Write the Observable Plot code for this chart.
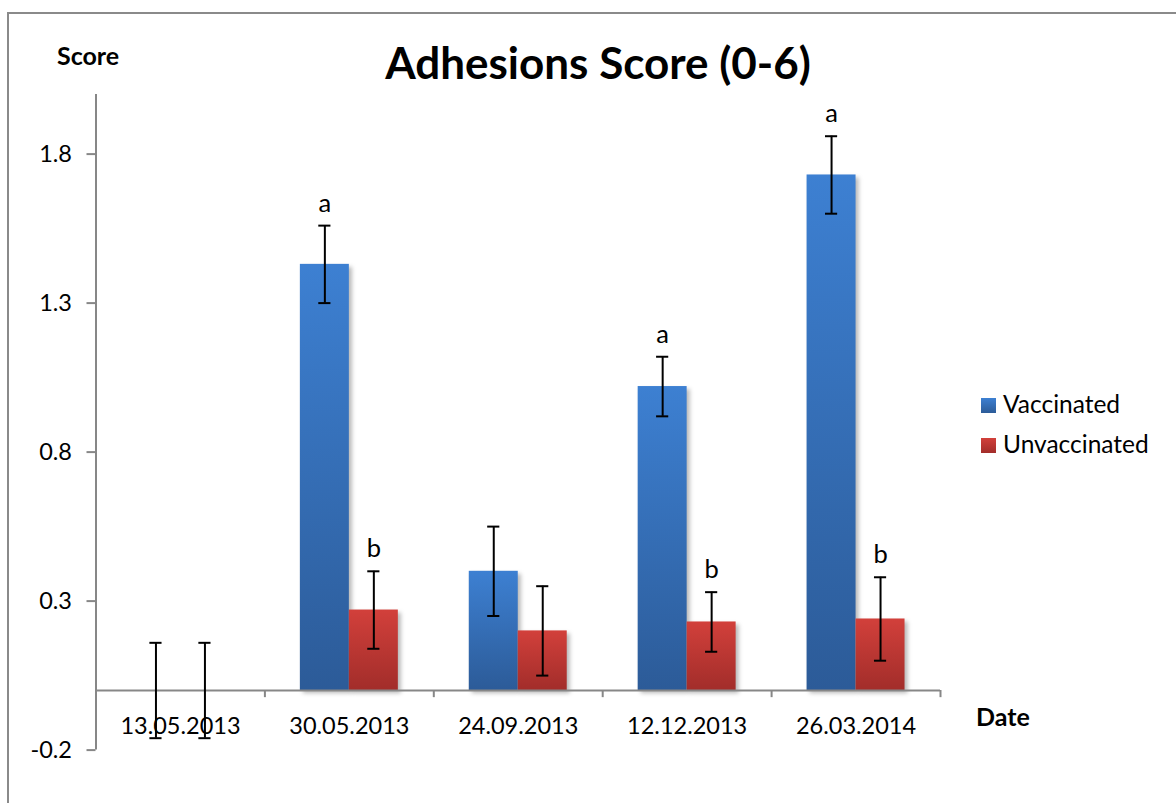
<!DOCTYPE html>
<html>
<head>
<meta charset="utf-8">
<script src="https://cdn.jsdelivr.net/npm/d3@7"></script>
<script src="https://cdn.jsdelivr.net/npm/@observablehq/plot@0.6"></script>
<style>
  html, body { margin: 0; padding: 0; background: #fff; }
  #chart { position: relative; width: 1176px; height: 803px; overflow: hidden; font-family: Lato, "Open Sans", sans-serif; }
  #chart > svg { position: absolute; left: 0; top: 0; }
  #overlay { pointer-events: none; }
</style>
</head>
<body>
<div id="chart"></div>
<script>
// Sampling dates (categories)
const dates = ["13.05.2013", "30.05.2013", "24.09.2013", "12.12.2013", "26.03.2014"];
const series = ["Vaccinated", "Unvaccinated"];

// Mean adhesion scores and their error margins
const vaccinated = [0, 1.43, 0.40, 1.02, 1.73];
const vaccinatedErr = [0.16, 0.13, 0.15, 0.10, 0.13];
const unvaccinated = [0, 0.27, 0.20, 0.23, 0.24];
const unvaccinatedErr = [0.16, 0.13, 0.15, 0.10, 0.14];

// Significance letters
const vaccinatedLetters = ["", "a", "", "a", "a"];
const unvaccinatedLetters = ["", "b", "", "b", "b"];

// Y axis ticks
const yTicks = [-0.2, 0.3, 0.8, 1.3, 1.8];

// Layout constants (in category units)
const barWidth = 0.29;
const capHalf = 0.036;
const tickLen = 0.024;
const axisGray = "#878787";
const labelSize = 23.5;

const values = [vaccinated, unvaccinated];
const errs = [vaccinatedErr, unvaccinatedErr];
const letters = [vaccinatedLetters, unvaccinatedLetters];

const rows = [];
dates.forEach((date, i) => {
  series.forEach((s, k) => {
    const center = i + 0.5;
    rows.push({
      date, series: s,
      value: values[k][i],
      err: errs[k][i],
      letter: letters[k][i],
      x1: center - barWidth * (1 - k),
      x2: center + barWidth * k,
      cx: center + barWidth * (k - 0.5)
    });
  });
});
const categoryRows = dates.map((date, i) => ({date, pos: i + 0.5}));

const shadow = "drop-shadow(3px 3px 2px rgba(0,0,0,0.28))";

const plot = Plot.plot({
  width: 1176,
  height: 803,
  marginLeft: 95.5,
  marginRight: 236,
  marginTop: 94,
  marginBottom: 53.4,
  x: {domain: [0, dates.length], axis: null},
  y: {domain: [-0.2, 2.0], axis: null},
  style: {fontFamily: "Lato, 'Open Sans', sans-serif", fontSize: "22px", color: "black", background: "transparent"},
  marks: [
    Plot.rectY(rows.filter(d => d.series === "Vaccinated"), {
      x1: "x1", x2: "x2", y1: 0, y2: "value", fill: "url(#gradVacc)", imageFilter: shadow
    }),
    Plot.rectY(rows.filter(d => d.series === "Unvaccinated"), {
      x1: "x1", x2: "x2", y1: 0, y2: "value", fill: "url(#gradUnvacc)", imageFilter: shadow
    }),
    // value axis
    Plot.ruleX([0], {y1: -0.2, y2: 2.0, stroke: axisGray, strokeWidth: 2}),
    Plot.axisY({
      ticks: yTicks, tickSize: 9, tickPadding: 15, tickFormat: d => String(d), label: null,
      stroke: axisGray, strokeWidth: 2, strokeOpacity: 1, fill: "black", fontSize: labelSize, anchor: "left"
    }),
    // category axis along zero
    Plot.ruleY([0], {stroke: axisGray, strokeWidth: 2}),
    Plot.ruleX(d3.range(1, dates.length + 1), {y1: 0, y2: -tickLen, stroke: axisGray, strokeWidth: 2}),
    Plot.text(categoryRows, {x: "pos", y: 0, text: "date", lineAnchor: "bottom", dy: 43, fontSize: labelSize, fill: "black"}),
    // error bars
    Plot.ruleX(rows, {x: "cx", y1: d => d.value - d.err, y2: d => d.value + d.err, stroke: "black", strokeWidth: 2}),
    Plot.ruleY(rows, {y: d => d.value - d.err, x1: d => d.cx - capHalf, x2: d => d.cx + capHalf, stroke: "black", strokeWidth: 2}),
    Plot.ruleY(rows, {y: d => d.value + d.err, x1: d => d.cx - capHalf, x2: d => d.cx + capHalf, stroke: "black", strokeWidth: 2}),
    // significance letters
    Plot.text(rows.filter(d => d.letter), {
      x: "cx", y: d => d.value + d.err, text: "letter", lineAnchor: "bottom", dy: -14, fontSize: 25.5, fill: "black"
    })
  ]
});

// Vertical gradients for bar fills
const defs = d3.select(plot).insert("defs", ":first-child");
function addGradient(sel, id, top, bottom) {
  const g = sel.append("linearGradient").attr("id", id).attr("x1", 0).attr("y1", 0).attr("x2", 0).attr("y2", 1);
  g.append("stop").attr("offset", "0%").attr("stop-color", top);
  g.append("stop").attr("offset", "100%").attr("stop-color", bottom);
}
addGradient(defs, "gradVacc", "#3d80d2", "#2c5b98");
addGradient(defs, "gradUnvacc", "#d2403b", "#a22d2a");

const chart = document.getElementById("chart");
chart.appendChild(plot);

// Frame, title, axis names and legend
const overlay = d3.select(chart).append("svg")
  .attr("id", "overlay")
  .attr("width", 1176).attr("height", 803)
  .style("font-family", "Lato, 'Open Sans', sans-serif");

const odefs = overlay.append("defs");
addGradient(odefs, "legVacc", "#3d80d2", "#2c5b98");
addGradient(odefs, "legUnvacc", "#d2403b", "#a22d2a");

overlay.append("path").attr("d", "M8,803V13H1176").attr("fill", "none").attr("stroke", "#8a8a8a").attr("stroke-width", 2);

overlay.append("text").attr("x", 598).attr("y", 79).attr("text-anchor", "middle")
  .attr("font-weight", "bold").attr("font-size", 44).text("Adhesions Score (0-6)");
overlay.append("text").attr("x", 57).attr("y", 65)
  .attr("font-weight", "bold").attr("font-size", 25).text("Score");
overlay.append("text").attr("x", 976).attr("y", 726)
  .attr("font-weight", "bold").attr("font-size", 25).text("Date");

const legendItems = series.map((s, k) => ({label: s, fill: k === 0 ? "url(#legVacc)" : "url(#legUnvacc)", y: 398 + k * 40}));
legendItems.forEach(item => {
  overlay.append("rect").attr("x", 981).attr("y", item.y).attr("width", 15).attr("height", 15).attr("fill", item.fill);
  overlay.append("text").attr("x", 1003).attr("y", item.y + 15).attr("font-size", 24.5).text(item.label);
});
</script>
</body>
</html>
